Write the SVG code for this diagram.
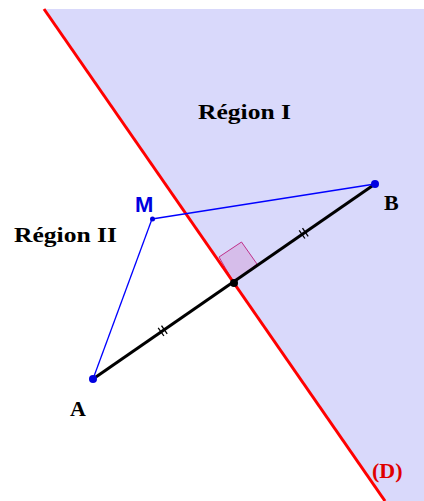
<svg xmlns="http://www.w3.org/2000/svg" width="424" height="501" viewBox="0 0 424 501">
<style>
.lbl{font-family:"Liberation Serif",serif;font-weight:bold;font-size:22px;fill:#000}
.tick{stroke:#000;stroke-width:1.3}
.pt{fill:#0000e0}
</style>
<rect width="424" height="501" fill="#fff"/>
<polygon points="44,9 424,9 424,501 385,501" fill="#d9d9fb"/>
<g id="rightangle"><polygon points="234,283 219,257 241.5,242 257,264" fill="#d6bdea" stroke="#c0308a" stroke-width="1"/></g>
<g id="connectors">
<line id="lineD" x1="44" y1="9" x2="385" y2="501" stroke="#ff0000" stroke-width="3"/>
<line id="AB" x1="93" y1="379" x2="375" y2="184" stroke="#000" stroke-width="3"/>
<line id="MA" x1="152" y1="219" x2="93" y2="379" stroke="#0000ff" stroke-width="1.3"/>
<line id="MB" x1="152" y1="219" x2="375" y2="184" stroke="#0000ff" stroke-width="1.3"/>
<g id="ticks">
<line class="tick" x1="299.2" y1="230.3" x2="304.9" y2="238.5"/>
<line class="tick" x1="302.5" y1="228.1" x2="308.2" y2="236.3"/>
<line class="tick" x1="158.2" y1="327.8" x2="163.9" y2="336"/>
<line class="tick" x1="161.5" y1="325.6" x2="167.2" y2="333.8"/>
</g>
</g>
<g id="A"><circle class="pt" cx="93" cy="379" r="4"/><text class="lbl" x="70" y="416">A</text></g>
<g id="B"><circle class="pt" cx="375" cy="184" r="4"/><text class="lbl" x="384" y="210">B</text></g>
<g id="M"><circle class="pt" cx="152.5" cy="219" r="2.5"/><text x="135" y="212" font-family="Liberation Sans,sans-serif" font-weight="bold" font-size="22" fill="#0000e0">M</text></g>
<g id="I"><circle cx="234" cy="283" r="4" fill="#000"/></g>
<g id="regions">
<text class="lbl" x="198" y="119" font-size="23" textLength="93" lengthAdjust="spacingAndGlyphs">Région I</text>
<text class="lbl" x="14" y="242" font-size="23" textLength="103" lengthAdjust="spacingAndGlyphs">Région II</text>
</g>
<g id="D"><text class="lbl" x="372" y="478" style="fill:#e00000">(D)</text></g>
</svg>
